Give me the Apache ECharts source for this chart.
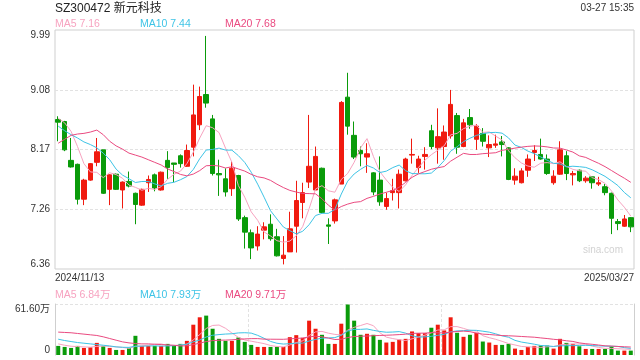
<!DOCTYPE html>
<html><head><meta charset="utf-8">
<script src="https://cdn.jsdelivr.net/npm/echarts@6/dist/echarts.min.js"></script>
<style>html,body{margin:0;padding:0;background:#fff}#c{width:640px;height:360px}</style>
</head><body><div id="c"></div>
<script>
const dates = [
 '2024/11/13','2024/11/14','2024/11/15','2024/11/18','2024/11/19','2024/11/20','2024/11/21','2024/11/22','2024/11/25','2024/11/26','2024/11/27','2024/11/28','2024/11/29',
 '2024/12/02','2024/12/03','2024/12/04','2024/12/05','2024/12/06','2024/12/09','2024/12/10','2024/12/11','2024/12/12','2024/12/13','2024/12/16','2024/12/17','2024/12/18','2024/12/19','2024/12/20','2024/12/23','2024/12/24','2024/12/25','2024/12/26','2024/12/27','2024/12/30','2024/12/31',
 '2025/01/02','2025/01/03','2025/01/06','2025/01/07','2025/01/08','2025/01/09','2025/01/10','2025/01/13','2025/01/14','2025/01/15','2025/01/16','2025/01/17','2025/01/20','2025/01/21','2025/01/22','2025/01/23','2025/01/24','2025/01/27',
 '2025/02/05','2025/02/06','2025/02/07','2025/02/10','2025/02/11','2025/02/12','2025/02/13','2025/02/14','2025/02/17','2025/02/18','2025/02/19','2025/02/20','2025/02/21','2025/02/24','2025/02/25','2025/02/26','2025/02/27','2025/02/28',
 '2025/03/03','2025/03/04','2025/03/05','2025/03/06','2025/03/07','2025/03/10','2025/03/11','2025/03/12','2025/03/13','2025/03/14','2025/03/17','2025/03/18','2025/03/19','2025/03/20','2025/03/21','2025/03/24','2025/03/25','2025/03/26','2025/03/27'
];
const opens = [8.63,8.60,8.01,7.95,7.42,7.71,7.98,8.17,7.57,7.80,7.56,7.69,7.51,7.33,7.67,7.79,7.56,8.01,7.97,8.08,
 7.92,8.21,8.55,9.01,8.64,7.81,7.73,7.58,7.78,7.14,6.91,6.71,6.95,7.04,6.85,6.52,6.62,7.01,7.37,7.68,
 7.56,7.89,7.03,7.09,7.65,8.97,8.39,8.16,8.06,7.82,7.71,7.31,7.52,7.52,7.70,8.09,7.90,8.07,8.46,8.20,
 8.22,8.38,8.69,8.22,8.66,8.33,8.42,8.20,8.24,8.29,8.20,7.71,7.67,7.86,8.13,8.10,8.03,7.67,7.80,8.08,
 7.79,7.86,7.70,7.76,7.65,7.61,7.51,7.08,7.01,7.14];
const closes = [8.59,8.17,7.91,7.42,7.71,7.96,8.14,7.51,7.79,7.57,7.68,7.62,7.34,7.57,7.72,7.59,7.83,7.90,7.95,7.96,
 8.16,8.70,8.98,8.88,7.81,7.79,7.53,7.89,7.12,6.92,6.68,6.89,7.00,6.82,6.56,6.57,6.97,7.40,7.52,7.92,
 8.07,7.22,7.01,7.41,8.89,8.53,8.06,8.11,8.11,7.53,7.38,7.43,7.55,7.80,8.03,8.10,8.03,8.10,8.22,8.37,
 8.44,8.86,8.21,8.58,8.55,8.53,8.30,8.25,8.26,8.25,7.72,7.77,7.85,8.03,8.16,8.03,7.81,7.77,8.17,7.81,
 7.81,7.70,7.74,7.67,7.67,7.52,7.13,7.05,7.12,7.00];
const lows = [8.30,8.15,7.90,7.34,7.33,7.70,7.92,7.50,7.33,7.56,7.28,7.60,7.04,7.32,7.53,7.54,7.55,7.73,7.68,7.90,
 7.91,8.07,8.47,8.81,7.78,7.47,7.46,7.47,7.09,6.67,6.51,6.64,6.81,6.79,6.55,6.43,6.62,6.61,7.13,7.59,
 7.56,7.21,6.74,7.05,7.65,8.40,8.03,7.92,7.82,7.48,7.32,7.26,7.40,7.28,7.69,7.96,7.82,7.87,8.18,7.96,
 8.02,8.34,8.11,8.21,8.49,8.17,8.22,8.06,8.20,8.07,7.71,7.64,7.66,7.76,8.00,8.02,7.79,7.64,7.79,7.71,
 7.63,7.68,7.67,7.58,7.62,7.48,6.89,6.95,7.00,6.92];
const highs = [8.68,8.61,8.35,7.96,7.73,7.97,8.35,8.17,7.80,7.81,7.69,7.84,7.52,7.58,7.78,7.81,7.84,8.15,7.97,8.10,
 8.25,9.16,9.13,9.90,8.70,8.02,7.89,8.00,7.79,7.17,6.96,7.01,7.07,7.19,6.97,6.86,7.23,7.70,7.67,8.70,
 8.22,7.90,7.13,7.43,8.91,9.34,8.60,8.22,8.27,7.83,8.07,7.52,7.73,7.87,8.05,8.34,8.08,8.21,8.55,8.80,
 8.54,9.08,8.73,8.64,8.79,8.56,8.50,8.39,8.40,8.38,8.21,7.89,7.89,8.10,8.24,8.34,8.10,7.86,8.30,8.15,
 7.85,7.87,7.77,7.77,7.76,7.65,7.52,7.12,7.18,7.15];
// volume in 万
const volumes = [10.98,9.76,8.54,10.98,8.54,9.35,14.64,10.57,8.54,6.10,6.10,8.54,23.18,10.98,10.98,10.98,10.98,13.42,10.98,13.42,
 17.08,36.60,45.54,47.57,31.72,19.52,17.08,17.08,21.14,15.86,12.20,9.76,9.76,9.76,9.76,9.76,21.55,23.99,20.74,41.47,
 31.72,24.40,13.42,13.42,37.81,61.00,41.47,24.40,25.62,24.40,18.30,15.05,15.86,18.70,19.52,28.46,26.43,26.43,32.93,36.60,
 29.68,45.54,26.84,21.96,24.40,26.84,16.26,15.05,12.20,12.20,13.42,7.73,6.10,9.76,10.98,11.39,11.39,7.73,19.52,14.64,
 13.42,10.57,7.32,7.32,7.32,7.32,10.57,5.29,5.29,5.29];
// MA values before enough in-window history exists
const ma5Lead = [8.65,8.58,8.45,8.22];
const ma10Lead = [8.53,8.46,8.40,8.35,8.29,8.25,8.20,8.12,8.02];
const ma20Lead = [8.27,8.33,8.39,8.41,8.42,8.44,8.47,8.40,8.30,8.23,8.18,8.12,8.09,8.06,8.02,7.98,7.94,7.88,7.84];
const volMa5Lead = [13.42,11.79,10.57,10.16];
const volMa10Lead = [19.11,17.48,16.26,15.05,14.23,13.42,12.60,11.79,10.98];
const volMa20Lead = [27.65,27.24,26.84,26.02,25.21,24.40,23.58,21.96,19.92,17.89,15.86,14.64,13.82,13.42,13.42,13.01,12.60,12.20,11.79];
const priceTickLabels = ['6.36','7.26','8.17','9.08','9.99'];
const volTickLabels = ['0','61.60万'];
const titleText = 'SZ300472 新元科技';
const timeText = '03-27 15:35';
const priceLegend = ['MA5 7.16','MA10 7.44','MA20 7.68'];
const volLegend = ['MA5 6.84万','MA10 7.93万','MA20 9.71万'];
const watermark = 'sina.com';

const RED = '#f01a0f', GREEN = '#0a9b0a';
const C5 = '#f7a3c0', C10 = '#3ec4e6', C20 = '#ea4a80';
const FONT = '"Liberation Sans", "Noto Sans CJK SC", Arial, sans-serif';

function movingAvg(src, n, lead) {
  return src.map((_, i) => {
    if (i < lead.length) return lead[i];
    let s = 0; for (let k = i - n + 1; k <= i; k++) s += src[k];
    return +(s / n).toFixed(4);
  });
}
const kData = opens.map((o, i) => [o, closes[i], lows[i], highs[i]]);
const ma5 = movingAvg(closes, 5, ma5Lead), ma10 = movingAvg(closes, 10, ma10Lead), ma20 = movingAvg(closes, 20, ma20Lead);
const vma5 = movingAvg(volumes, 5, volMa5Lead), vma10 = movingAvg(volumes, 10, volMa10Lead), vma20 = movingAvg(volumes, 20, volMa20Lead);
const volData = volumes.map((v, i) => ({ value: v, itemStyle: { color: closes[i] >= opens[i] ? RED : GREEN } }));

const pMin = parseFloat(priceTickLabels[0]), pMax = parseFloat(priceTickLabels[priceTickLabels.length - 1]);
const pStep = (pMax - pMin) / (priceTickLabels.length - 1);
const vMax = parseFloat(volTickLabels[1]);

function txt(x, y, text, color, size, align) {
  return { type: 'text', x: x, y: y, silent: true,
    style: { text: text, fill: color, font: size + 'px ' + FONT, align: align || 'left', verticalAlign: 'middle' } };
}
const gridLine = { color: '#e2e2e2', type: [3, 2], width: 1 };
const line = (name, data, color, xi) => ({ name, type: 'line', data, xAxisIndex: xi, yAxisIndex: xi, symbol: 'none',
  lineStyle: { width: 1, color }, itemStyle: { color }, silent: true, animation: false, z: 3 });

const chart = echarts.init(document.getElementById('c'), null, { renderer: 'canvas' });
chart.setOption({
  animation: false,
  backgroundColor: '#fff',
  grid: [
    { left: 55, right: 6, top: 30, height: 239, show: true, borderColor: '#cfcfcf', borderWidth: 1, outerBoundsMode: 'none' },
    { left: 55, right: 6, top: 304, height: 51, outerBoundsMode: 'none' }
  ],
  xAxis: [
    { type: 'category', data: dates, gridIndex: 0, boundaryGap: true, axisLine: { show: false }, axisTick: { show: false }, axisLabel: { show: false }, splitLine: { show: false } },
    { type: 'category', data: dates, gridIndex: 1, boundaryGap: true, axisLine: { show: false }, axisTick: { show: false }, axisLabel: { show: false },
      splitLine: { show: true, interval: 29, lineStyle: gridLine } }
  ],
  yAxis: [
    { type: 'value', gridIndex: 0, min: pMin, max: pMax, interval: pStep,
      axisLine: { show: false }, axisTick: { show: false },
      axisLabel: { fontSize: 10, color: '#333', fontFamily: FONT, margin: 5,
        verticalAlignMinLabel: 'bottom', verticalAlignMaxLabel: 'top',
        formatter: v => priceTickLabels[Math.round((v - pMin) / pStep)] },
      splitLine: { show: true, lineStyle: gridLine, showMinLine: false, showMaxLine: false } },
    { type: 'value', gridIndex: 1, min: 0, max: vMax, interval: vMax,
      axisLine: { show: true, lineStyle: { color: '#cfcfcf' } }, axisTick: { show: false },
      axisLabel: { fontSize: 10, color: '#333', fontFamily: FONT, margin: 5,
        verticalAlignMinLabel: 'bottom', verticalAlignMaxLabel: 'top',
        formatter: v => v === 0 ? volTickLabels[0] : volTickLabels[1] },
      splitLine: { show: true, lineStyle: gridLine, showMinLine: false } },
    { type: 'value', gridIndex: 1, position: 'right', min: 0, max: vMax,
      axisLine: { show: true, lineStyle: { color: '#cfcfcf' } }, axisTick: { show: false }, axisLabel: { show: false }, splitLine: { show: false } }
  ],
  series: [
    { type: 'candlestick', data: kData, xAxisIndex: 0, yAxisIndex: 0, barWidth: 5,
      itemStyle: { color: RED, color0: GREEN, borderColor: RED, borderColor0: GREEN, borderWidth: 1 }, silent: true },
    line('MA5', ma5, C5, 0), line('MA10', ma10, C10, 0), line('MA20', ma20, C20, 0),
    { type: 'bar', data: volData, xAxisIndex: 1, yAxisIndex: 1, barWidth: 4, silent: true },
    line('VMA5', vma5, C5, 1), line('VMA10', vma10, C10, 1), line('VMA20', vma20, C20, 1)
  ],
  graphic: [
    txt(55, 9, titleText, '#222', 12),
    txt(634, 8, timeText, '#333', 10, 'right'),
    txt(55, 24, priceLegend[0], C5, 10.5), txt(140, 24, priceLegend[1], C10, 10.5), txt(225, 24, priceLegend[2], C20, 10.5),
    txt(55, 278, dates[0], '#333', 10), txt(634, 278, dates[dates.length - 1], '#333', 10, 'right'),
    txt(55, 295, volLegend[0], C5, 10.5), txt(140, 295, volLegend[1], C10, 10.5), txt(225, 295, volLegend[2], C20, 10.5),
    txt(623, 250, watermark, '#d2d2d2', 10, 'right')
  ]
});
</script></body></html>
